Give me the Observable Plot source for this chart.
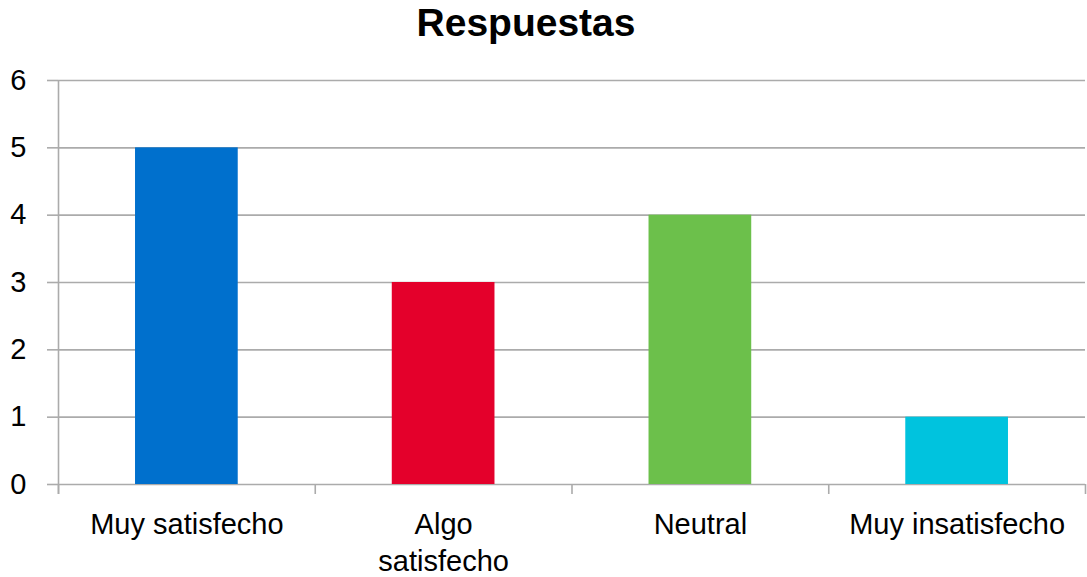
<!DOCTYPE html>
<html>
<head>
<meta charset="utf-8">
<script src="https://cdn.jsdelivr.net/npm/d3@7"></script>
<script src="https://cdn.jsdelivr.net/npm/@observablehq/plot@0.6"></script>
<style>
  body { margin: 0; background: #fff; font-family: "Liberation Sans", Arial, sans-serif; }
  #title {
    width: 1087px; height: 46px; line-height: 46px; box-sizing: border-box;
    padding-right: 35px; text-align: center;
    font-size: 39px; font-weight: bold; color: #000;
  }
</style>
</head>
<body>
<div id="title">Respuestas</div>
<div id="chart"></div>
<script>
// Survey answers per satisfaction level
const categories = ["Muy satisfecho", "Algo satisfecho", "Neutral", "Muy insatisfecho"];
const categoryLabels = ["Muy satisfecho", "Algo\nsatisfecho", "Neutral", "Muy insatisfecho"];
const counts = [5, 3, 4, 1];
const colors = ["#0070cd", "#e4002b", "#6cc04b", "#00c3de"];
const yTicks = [0, 1, 2, 3, 4, 5, 6];

// Each category occupies one unit of x; the bar fills the middle 40%
const data = categories.map((c, i) => ({category: c, index: i, value: counts[i], color: colors[i]}));
const gridColor = "#ababab";

const chart = Plot.plot({
  width: 1087,
  height: 531,
  marginLeft: 58,
  marginRight: 2,
  marginTop: 34,
  marginBottom: 93,
  style: {fontFamily: "'Liberation Sans', Arial, sans-serif", color: "#000", background: "#fff"},
  x: {domain: [0, categories.length], axis: null},
  y: {domain: [0, 6], axis: null},
  marks: [
    Plot.ruleY(yTicks, {stroke: gridColor, strokeWidth: 1.6}),
    Plot.rectY(data, {x1: d => d.index + 0.3, x2: d => d.index + 0.7, y1: 0, y2: "value", fill: "color"}),
    Plot.ruleX([0], {stroke: gridColor, strokeWidth: 1.6, insetBottom: -10}),
    Plot.axisY({
      ticks: yTicks, tickSize: 11, tickPadding: 21, fontSize: 29, label: null,
      stroke: gridColor, strokeWidth: 1.6, tickFormat: d => String(d)
    }),
    Plot.axisX({
      ticks: d3.range(categories.length + 1), tickSize: 10, tickFormat: () => "", label: null,
      stroke: gridColor, strokeWidth: 1.6
    }),
    Plot.axisX({
      ticks: categories.map((c, i) => i + 0.5), tickSize: 0, tickPadding: 23, label: null,
      fontSize: 29, lineHeight: 1.28,
      tickFormat: v => categoryLabels[Math.floor(v)]
    })
  ]
});
document.getElementById("chart").appendChild(chart);
</script>
</body>
</html>
